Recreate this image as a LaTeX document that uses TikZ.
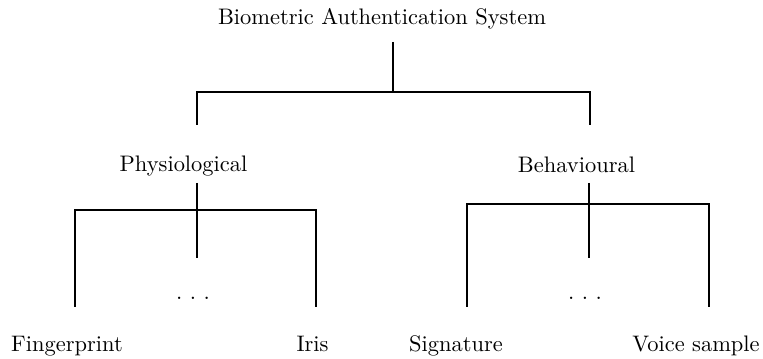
\documentclass[tikz,border=0pt]{standalone}
\begin{document}
\begin{tikzpicture}[x=0.472pt,y=-0.472pt,
  label/.style={inner sep=0pt,anchor=base,font=\fontsize{10.6}{13}\selectfont},
  branch/.style={line width=1.4pt,line join=miter,line cap=butt}]
\useasboundingbox (0,0) rectangle (763,359);
% labels
\node[label] (root) at (382,25) {Biometric Authentication System};
\node[label] (phys) at (183.5,171.5) {Physiological};
\node[label] (behv) at (576.5,172.5) {Behavioural};
\node[label] (finger) at (67,352) {Fingerprint};
\node[label] (iris) at (312.5,352) {Iris};
\node[label] (sign) at (456,352) {Signature};
\node[label] (voice) at (696,352) {Voice sample};
\node[label] (pdots) at (193,300) {.\ .\ .};
\node[label] (bdots) at (585,300) {.\ .\ .};
% junction points
\coordinate (r1) at (393,42);
\coordinate (r2) at (393,92);
\coordinate (ra) at (197,92);
\coordinate (rb) at (590,92);
\coordinate (ra2) at (197,125);
\coordinate (rb2) at (590,125);
\coordinate (p1) at (197,183);
\coordinate (p2) at (197,258);
\coordinate (pa) at (75,210);
\coordinate (pb) at (316,210);
\coordinate (pa2) at (75,307);
\coordinate (pb2) at (316,307);
\coordinate (b1) at (589,183);
\coordinate (b2) at (589,258);
\coordinate (ba) at (467,204);
\coordinate (bb) at (709,204);
\coordinate (ba2) at (467,307);
\coordinate (bb2) at (709,307);
% connectors
\draw[branch] (r1) -- (r2);
\draw[branch] (ra2) -- (ra) -- (rb) -- (rb2);
\draw[branch] (p1) -- (p2);
\draw[branch] (pa2) -- (pa) -- (pb) -- (pb2);
\draw[branch] (b1) -- (b2);
\draw[branch] (ba2) -- (ba) -- (bb) -- (bb2);
\end{tikzpicture}
\end{document}
